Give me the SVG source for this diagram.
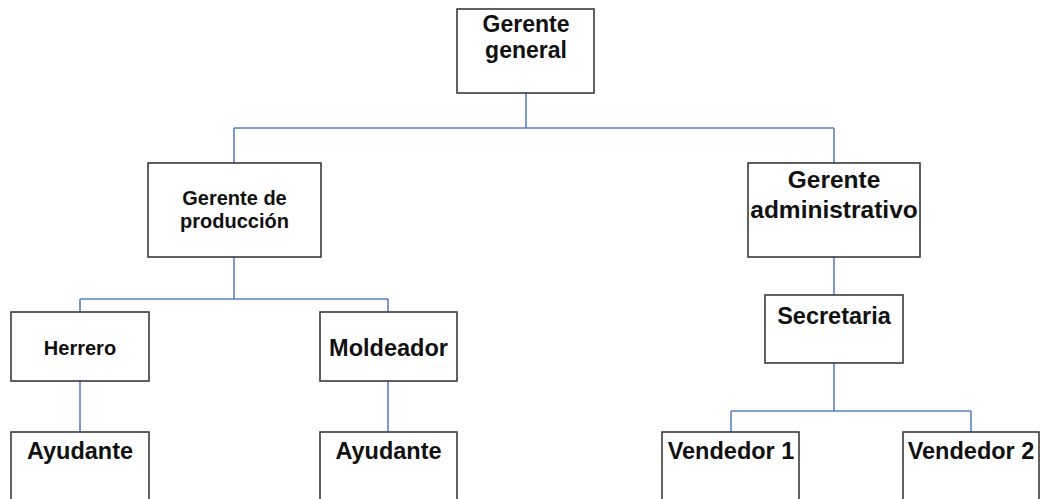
<svg xmlns="http://www.w3.org/2000/svg" width="1041" height="499" viewBox="0 0 1041 499">
  <style>
    .box { fill: #ffffff; stroke: #3a3a3a; stroke-width: 1.6; }
    .lbl { font-family: "Liberation Sans", Arial, sans-serif; font-weight: bold; fill: #111111; text-anchor: middle; }
    .big { font-size: 23.5px; }
    .small { font-size: 20px; }
    .link { fill: none; stroke: #5a7fcf; stroke-width: 1.6; }
  </style>
  <rect width="1041" height="499" fill="#ffffff"/>

  <!-- connectors -->
  <g id="connectors">
    <path class="link" d="M526 93 V128 M234 128 H834 M234 128 V163 M834 128 V163"/>
    <path class="link" d="M234 257 V299 M80 299 H388 M80 299 V312 M388 299 V312"/>
    <path class="link" d="M80 381 V432 M388 381 V432"/>
    <path class="link" d="M834 257 V295"/>
    <path class="link" d="M834 363 V411 M731 411 H971 M731 411 V432 M971 411 V432"/>
  </g>

  <g id="gerente-general">
    <rect class="box" x="457" y="9" width="137" height="84"/>
    <text class="lbl big" x="526" y="31.5" style="font-size:23px">Gerente</text>
    <text class="lbl big" x="526" y="58" style="font-size:23px">general</text>
  </g>

  <g id="gerente-produccion">
    <rect class="box" x="148" y="163" width="173" height="94"/>
    <text class="lbl small" x="234.5" y="205">Gerente de</text>
    <text class="lbl small" x="234.5" y="227.5">producción</text>
  </g>

  <g id="gerente-administrativo">
    <rect class="box" x="748" y="163" width="172" height="94"/>
    <text class="lbl big" x="834" y="188" style="font-size:24.5px">Gerente</text>
    <text class="lbl big" x="834" y="218" style="font-size:24.5px">administrativo</text>
  </g>

  <g id="herrero">
    <rect class="box" x="11" y="312" width="138" height="69"/>
    <text class="lbl small" x="80" y="354.5">Herrero</text>
  </g>

  <g id="moldeador">
    <rect class="box" x="320" y="312" width="137" height="69"/>
    <text class="lbl big" x="388.5" y="355.5">Moldeador</text>
  </g>

  <g id="secretaria">
    <rect class="box" x="765" y="295" width="138" height="68"/>
    <text class="lbl big" x="834" y="324">Secretaria</text>
  </g>

  <g id="ayudante-1">
    <rect class="box" x="11" y="432" width="138" height="80"/>
    <text class="lbl big" x="80" y="459">Ayudante</text>
  </g>

  <g id="ayudante-2">
    <rect class="box" x="320" y="432" width="137" height="80"/>
    <text class="lbl big" x="388.5" y="459">Ayudante</text>
  </g>

  <g id="vendedor-1">
    <rect class="box" x="662" y="432" width="137" height="80"/>
    <text class="lbl big" x="731" y="459">Vendedor 1</text>
  </g>

  <g id="vendedor-2">
    <rect class="box" x="903" y="432" width="136" height="80"/>
    <text class="lbl big" x="971" y="459">Vendedor 2</text>
  </g>
</svg>
